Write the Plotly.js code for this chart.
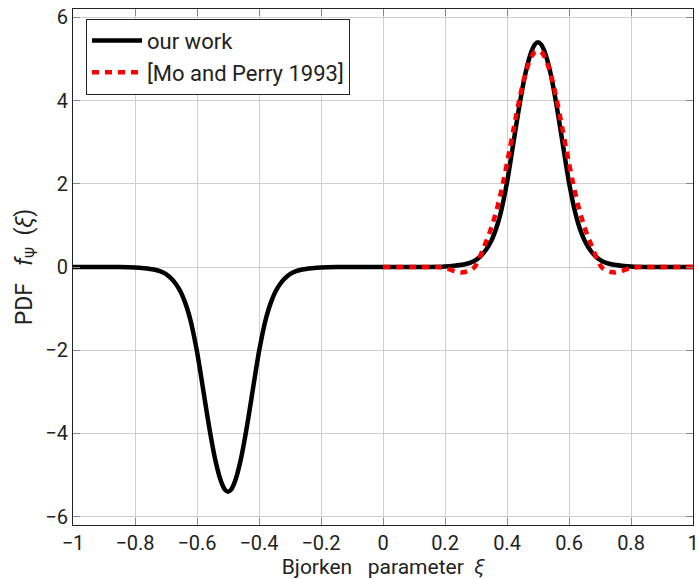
<!DOCTYPE html>
<html>
<head>
<meta charset="utf-8">
<script src="https://cdn.plot.ly/plotly-3.0.1.min.js"></script>
<style>html,body{margin:0;padding:0;background:#fff;}#chart{width:698px;height:579px;}</style>
</head>
<body>
<div id="chart"></div>
<script>
// "our work" (black solid)
var ourX = [-1, -0.9, -0.85, -0.8, -0.77, -0.74, -0.72, -0.7, -0.69, -0.68, -0.67, -0.66, -0.65, -0.64, -0.63, -0.62, -0.61, -0.6,
            -0.59, -0.58, -0.57, -0.56, -0.55, -0.54, -0.53, -0.52, -0.51, -0.5,
            -0.49, -0.48, -0.47, -0.46, -0.45, -0.44, -0.43, -0.42, -0.41, -0.4,
            -0.39, -0.38, -0.37, -0.36, -0.35, -0.34, -0.33, -0.32, -0.31, -0.3, -0.28, -0.26, -0.23, -0.2, -0.15, -0.1, 0,
            0.1, 0.15, 0.2, 0.23, 0.26, 0.28, 0.3, 0.31, 0.32, 0.33, 0.34, 0.35, 0.36, 0.37, 0.38, 0.39, 0.4,
            0.41, 0.42, 0.43, 0.44, 0.45, 0.46, 0.47, 0.48, 0.49, 0.5,
            0.51, 0.52, 0.53, 0.54, 0.55, 0.56, 0.57, 0.58, 0.59, 0.6,
            0.61, 0.62, 0.63, 0.64, 0.65, 0.66, 0.67, 0.68, 0.69, 0.7, 0.72, 0.74, 0.77, 0.8, 0.85, 0.9, 1];
var ourY = [0, 0, 0, -0.01, -0.03, -0.06, -0.10, -0.17, -0.23, -0.30, -0.39, -0.50, -0.64, -0.82, -1.04, -1.31, -1.65, -2.03,
            -2.48, -2.95, -3.42, -3.88, -4.30, -4.67, -4.97, -5.20, -5.35, -5.40,
            -5.35, -5.20, -4.97, -4.67, -4.30, -3.88, -3.42, -2.95, -2.48, -2.03,
            -1.65, -1.31, -1.04, -0.82, -0.64, -0.50, -0.39, -0.30, -0.23, -0.17, -0.10, -0.06, -0.03, -0.01, 0, 0, 0,
            0, 0, 0.01, 0.03, 0.06, 0.10, 0.17, 0.23, 0.30, 0.39, 0.50, 0.64, 0.82, 1.04, 1.31, 1.65, 2.03,
            2.48, 2.95, 3.42, 3.88, 4.30, 4.67, 4.97, 5.20, 5.35, 5.40,
            5.35, 5.20, 4.97, 4.67, 4.30, 3.88, 3.42, 2.95, 2.48, 2.03,
            1.65, 1.31, 1.04, 0.82, 0.64, 0.50, 0.39, 0.30, 0.23, 0.17, 0.10, 0.06, 0.03, 0.01, 0, 0, 0];

// [Mo and Perry 1993] (red dashed)
var moX = [0, 0.1, 0.17, 0.19, 0.205, 0.22, 0.235, 0.25, 0.265, 0.28, 0.29, 0.3,
           0.31, 0.32, 0.33, 0.34, 0.35, 0.36, 0.37, 0.38, 0.39, 0.4,
           0.41, 0.42, 0.43, 0.44, 0.45, 0.46, 0.47, 0.48, 0.49, 0.5,
           0.51, 0.52, 0.53, 0.54, 0.55, 0.56, 0.57, 0.58, 0.59, 0.6,
           0.61, 0.62, 0.63, 0.64, 0.65, 0.66, 0.67, 0.68, 0.69, 0.7,
           0.71, 0.72, 0.735, 0.75, 0.765, 0.78, 0.795, 0.81, 0.83, 0.9, 1];
var moY = [0, 0, 0, -0.01, -0.03, -0.07, -0.11, -0.13, -0.12, -0.09, -0.04, 0.05,
           0.20, 0.38, 0.56, 0.75, 0.96, 1.20, 1.47, 1.78, 2.12, 2.49,
           2.88, 3.27, 3.66, 4.03, 4.37, 4.66, 4.90, 5.07, 5.17, 5.20,
           5.17, 5.07, 4.90, 4.66, 4.37, 4.03, 3.66, 3.27, 2.88, 2.49,
           2.12, 1.78, 1.47, 1.20, 0.96, 0.75, 0.56, 0.38, 0.20, 0.05,
           -0.04, -0.09, -0.12, -0.13, -0.11, -0.07, -0.03, -0.01, 0, 0, 0];

var seriesNames = ["our work", "[Mo and Perry 1993]"];
var xTicks = [-1, -0.8, -0.6, -0.4, -0.2, 0, 0.2, 0.4, 0.6, 0.8, 1];
var yTicks = [-6, -4, -2, 0, 2, 4, 6];

var FONT = "Roboto, 'DejaVu Sans', sans-serif";
var TXT = "#222";
function lbl(v){ return v < 0 ? "\u2212" + Math.abs(v) : String(v); }

var traces = [
  {x: ourX, y: ourY, name: seriesNames[0], mode: "lines", type: "scatter",
   line: {color: "#000", width: 4.5, shape: "spline", smoothing: 0.5}},
  {x: moX, y: moY, name: seriesNames[1], mode: "lines", type: "scatter",
   line: {color: "#ff0000", width: 4.5, dash: "7px,6px", shape: "spline", smoothing: 0.5}}
];

var axisCommon = {
  showgrid: true, gridcolor: "#cfcfcf", gridwidth: 1,
  zeroline: false, showline: true, linecolor: "#222", linewidth: 1,
  mirror: "ticks", ticks: "inside", ticklen: 7, tickcolor: "#888", tickwidth: 1,
  ticklabeloverflow: "allow",
  tickfont: {family: FONT, size: 20, color: TXT}
};

var layout = {
  width: 698, height: 579,
  margin: {l: 73, r: 5, t: 9, b: 54},
  paper_bgcolor: "#fff", plot_bgcolor: "#fff",
  showlegend: true,
  legend: {x: 0.021, y: 0.981, xanchor: "left", yanchor: "top",
           bgcolor: "#fff", bordercolor: "#222", borderwidth: 1, itemwidth: 50,
           font: {family: FONT, size: 22, color: TXT}},
  xaxis: Object.assign({}, axisCommon, {
    range: [-1, 1], tickvals: xTicks, ticktext: xTicks.map(lbl),
    title: {text: "Bjorken\u00a0\u00a0\u00a0parameter\u00a0\u00a0<i>ξ</i>", font: {family: FONT, size: 21, color: TXT}, standoff: 4}
  }),
  yaxis: Object.assign({}, axisCommon, {
    range: [-6.2, 6.2], tickvals: yTicks, ticktext: yTicks.map(lbl),
    title: {text: "PDF\u00a0\u00a0\u00a0<i>f</i><sub>Ψ</sub>\u00a0\u00a0(<i>ξ</i>)", font: {family: FONT, size: 23, color: TXT}, standoff: 6}
  })
};

Plotly.newPlot("chart", traces, layout, {displayModeBar: false, staticPlot: true});
</script>
</body>
</html>
